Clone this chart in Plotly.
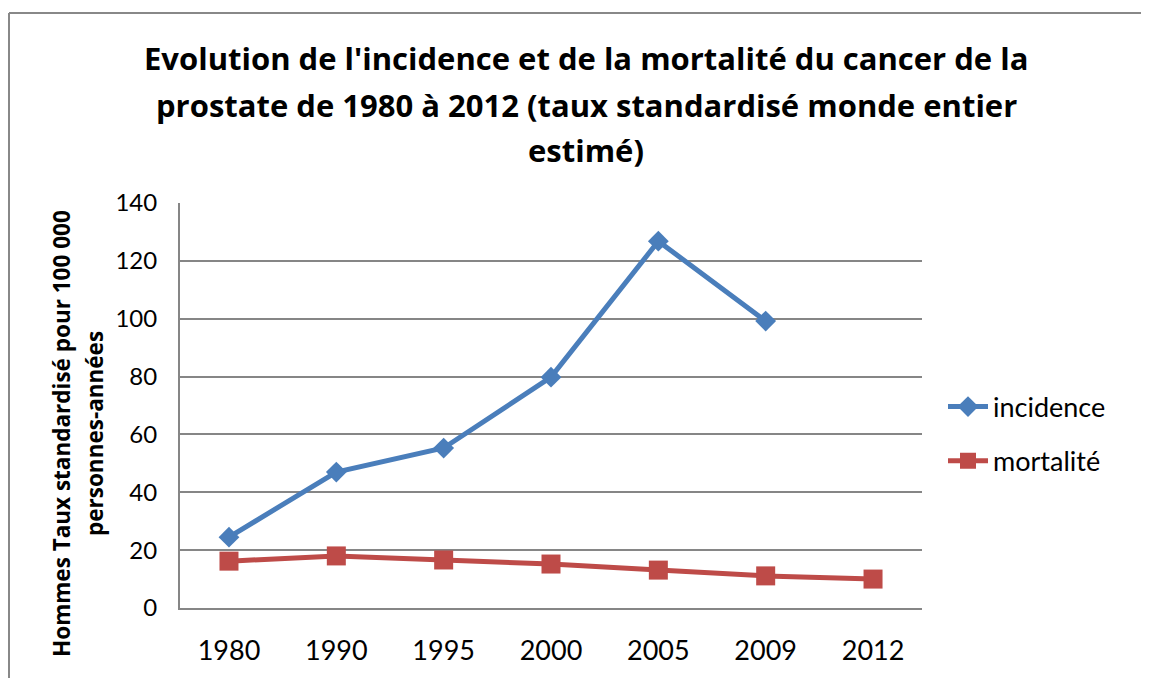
import plotly.graph_objects as go

years = ["1980", "1990", "1995", "2000", "2005", "2009", "2012"]
incidence = [24.5, 47.0, 55.3, 79.8, 126.8, 99.2, None]
mortalite = [16.2, 18.0, 16.6, 15.2, 13.1, 11.1, 10.0]
yticks = [0, 20, 40, 60, 80, 100, 120, 140]
title_lines = [
    "Evolution de l'incidence et de la mortalité du cancer de la",
    "prostate de 1980 à 2012 (taux standardisé monde entier",
    "estimé)",
]
ytitle_lines = ["Hommes Taux standardisé pour 100 000", "personnes-années"]

W, H = 1149, 678
OFF = 8  # page offset of the figure inside the browser window
FW, FH = W - OFF, H - OFF
# plot area in reference (window) pixels
L, R, T, B = 180, 922, 203, 608

def px(x):
    return (x - L) / (R - L)

def py(y):
    return (B - y) / (B - T)

FONT = "Lato"
BOLD = "Open Sans"

fig = go.Figure()
fig.add_trace(go.Scatter(
    x=years, y=incidence, name="incidence", mode="lines+markers",
    legendgroup="a",
    line=dict(color="#4A7EBB", width=5),
    marker=dict(symbol="diamond", size=16, color="#4A7EBB"),
))
fig.add_trace(go.Scatter(
    x=years, y=mortalite, name="mortalité", mode="lines+markers",
    legendgroup="b",
    line=dict(color="#BE4B48", width=5),
    marker=dict(symbol="square", size=19, color="#BE4B48"),
))

fig.update_layout(
    width=FW, height=FH,
    margin=dict(l=L - OFF, r=FW - (R - OFF), t=T - OFF, b=FH - (B - OFF)),
    paper_bgcolor="white", plot_bgcolor="white",
    font=dict(family=FONT, color="black"),
    xaxis=dict(
        type="category", showgrid=False, showline=True, linecolor="#868686",
        linewidth=2, ticks="", tickfont=dict(size=27, family=FONT),
        ticklabelstandoff=18,
    ),
    yaxis=dict(
        range=[0, 140], tickvals=yticks, showgrid=True, gridcolor="#868686",
        gridwidth=2, showline=True, linecolor="#868686", linewidth=2,
        zeroline=False, ticks="", tickfont=dict(size=24, family=FONT),
        ticklabelstandoff=16,
    ),
    legend=dict(
        x=px(943), xanchor="left", y=py(434), yanchor="middle",
        font=dict(size=27, family=FONT), bgcolor="rgba(0,0,0,0)",
        tracegroupgap=16, itemwidth=40,
    ),
    showlegend=True,
)

# title lines
for txt, yc in zip(title_lines, [58, 105, 150]):
    fig.add_annotation(
        text="<b>" + txt + "</b>", xref="paper", yref="paper",
        x=px(586), y=py(yc), xanchor="center", yanchor="middle",
        showarrow=False, font=dict(size=31, family=BOLD, color="black"),
    )

# y axis title lines
for txt, xc in zip(ytitle_lines, [61, 94]):
    fig.add_annotation(
        text="<b>" + txt + "</b>", xref="paper", yref="paper",
        x=px(xc), y=py(434), xanchor="center", yanchor="middle",
        textangle=-90, showarrow=False,
        font=dict(size=22.5, family=BOLD, color="black"),
    )

# chart frame (top and left edges visible)
fig.add_shape(type="line", xref="paper", yref="paper",
              x0=px(9), x1=px(W), y0=py(13), y1=py(13),
              line=dict(color="#888888", width=2))
fig.add_shape(type="line", xref="paper", yref="paper",
              x0=px(9), x1=px(9), y0=py(13), y1=py(H),
              line=dict(color="#888888", width=2))

fig.write_html("out.html")
